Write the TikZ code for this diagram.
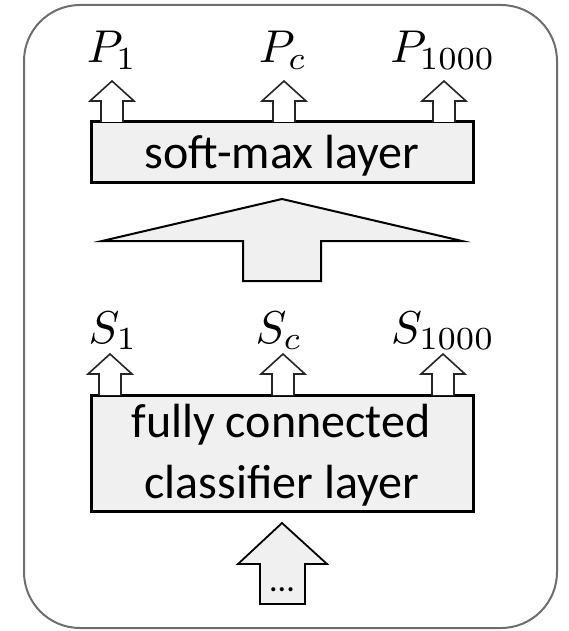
\documentclass[tikz,border=0pt]{standalone}
\usepackage{fontspec}
\setmainfont{Carlito}
\definecolor{boxfill}{HTML}{F0F0F0}
\definecolor{framegray}{HTML}{6E6E6E}
\tikzset{
  layerbox/.style={draw=black, line width=3pt, fill=boxfill, minimum width=382pt, inner sep=0pt,
    font=\fontsize{45}{61}\selectfont, align=center},
  layertext/.style={inner sep=0pt, anchor=base, font=\fontsize{48}{56}\selectfont},
  bigarrow/.style={draw=black, line width=2pt, fill=boxfill, line join=miter},
  smallarrow/.style={draw=black!85, line width=1.6pt, fill=white, line join=miter},
  mathlabel/.style={inner sep=0pt, anchor=base, scale=4.6},
  pics/uparr/.style={code={
    \draw[smallarrow] (-11,0) -- (-11,-21) -- (-22,-21) -- (0,-41) -- (22,-21) -- (11,-21) -- (11,0);
  }}
}
\begin{document}
\begin{tikzpicture}[x=1pt,y=-1pt]
\useasboundingbox (0,0) rectangle (569,631);
% outer frame
\draw[framegray, line width=2pt, rounded corners=56pt] (24,5) rectangle (557,628);
% soft-max layer
\node[layerbox, minimum height=60pt] (softmax) at (282,152) {};
\node[layertext] (smtext) at (282,168) {soft-max layer};
% small arrows above softmax
\pic at (112,122) {uparr};
\pic at (284,122) {uparr};
\pic at (444,122) {uparr};
% P labels
\node[mathlabel] (p1) at (112,63) {$P_1$};
\node[mathlabel] (pc) at (283,63) {$P_c$};
\node[mathlabel] (p1000) at (443,63) {$P_{1000}$};
% big arrow
\draw[bigarrow] (282,199) -- (462,241) -- (321,241) -- (321,281) -- (243,281) -- (243,241) -- (102,241) -- cycle;
% S labels
\node[mathlabel] (s1) at (113,343) {$S_1$};
\node[mathlabel] (sc) at (279,343) {$S_c$};
\node[mathlabel] (s1000) at (443,343) {$S_{1000}$};
% fully connected layer
\node[layerbox, minimum height=116pt] (fc) at (282,453) {};
\node[layertext] (fc1) at (281,437) {fully connected};
\node[layertext] (fc2) at (282,498) {classifier layer};
% small arrows above fc
\pic at (110,395) {uparr};
\pic at (283,395) {uparr};
\pic at (443,395) {uparr};
% bottom arrow
\draw[bigarrow, line width=1.8pt] (282,523) -- (327,564) -- (305,564) -- (305,604) -- (260,604) -- (260,564) -- (238,564) -- cycle;
\node[inner sep=0pt, anchor=base, font=\fontsize{34}{40}\selectfont] (dots) at (282,591) {...};
\end{tikzpicture}
\end{document}
